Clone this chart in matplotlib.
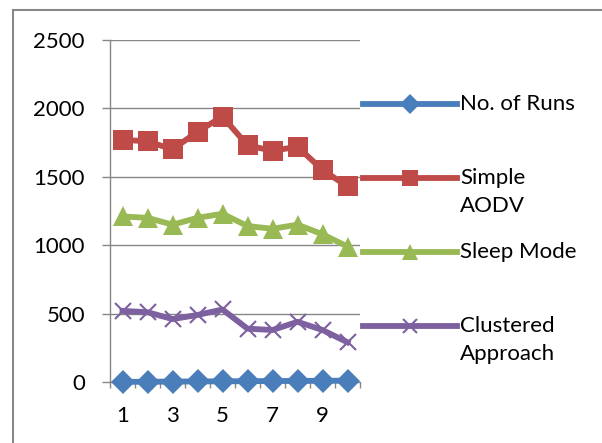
import numpy as np
import matplotlib
matplotlib.use('Agg')
import matplotlib.pyplot as plt
from matplotlib.lines import Line2D
from matplotlib.patches import Rectangle

plt.rcParams['font.family'] = ['Lato', 'DejaVu Sans']

# Data
runs = [1, 2, 3, 4, 5, 6, 7, 8, 9, 10]
no_of_runs = [1, 2, 3, 4, 5, 6, 7, 8, 9, 10]
simple_aodv = [1770, 1760, 1700, 1830, 1940, 1730, 1690, 1720, 1550, 1430]
sleep_mode = [1210, 1200, 1150, 1200, 1230, 1140, 1120, 1150, 1080, 990]
clustered = [520, 510, 460, 490, 530, 390, 380, 440, 380, 290]

series = [
    ('No. of Runs', no_of_runs, '#4A7EBB', 'D', 12),
    ('Simple\nAODV', simple_aodv, '#BE4B48', 's', 14),
    ('Sleep Mode', sleep_mode, '#98B954', '^', 14),
    ('Clustered\nApproach', clustered, '#7D60A0', 'x', 12),
]

W, H = 602, 443
fig = plt.figure(figsize=(W / 100, H / 100), dpi=100)
ax = fig.add_axes([110 / W, 1 - 382 / H, 250 / W, 342 / H])

grid_col = '#868686'
for name, vals, col, mk, ms in series:
    kw = dict(markeredgewidth=1.5) if mk == 'x' else dict(markeredgewidth=0)
    ax.plot(runs, vals, color=col, lw=4.2, marker=mk, markersize=ms,
            markerfacecolor=col, markeredgecolor=col, clip_on=False, zorder=3, **kw)

ax.set_xlim(0.5, 10.5)
ax.set_ylim(0, 2500)
ax.set_yticks([0, 500, 1000, 1500, 2000, 2500])
ax.set_xticks([1, 3, 5, 7, 9])
ax.set_xticks(np.arange(0.5, 11, 1), minor=True)
ax.tick_params(axis='x', which='major', length=0, pad=17, labelsize=16)
ax.tick_params(axis='x', which='minor', length=4, width=1, color=grid_col, direction='out')
ax.tick_params(axis='y', length=6, width=1, color=grid_col, pad=12, labelsize=16)
ax.yaxis.grid(True, color=grid_col, lw=1)
ax.set_axisbelow(True)
for s in ['top', 'right']:
    ax.spines[s].set_visible(False)
for s in ['left', 'bottom']:
    ax.spines[s].set_color(grid_col)
    ax.spines[s].set_linewidth(1)

# legend drawn by hand, handles aligned with first text line
y0 = 104
for i, (name, vals, col, mk, ms) in enumerate(series):
    y = 1 - (y0 + 74 * i) / H
    fig.add_artist(Line2D([363 / W, 457 / W], [y, y], color=col, lw=4.2))
    mkw = dict(markeredgewidth=1.5) if mk == 'x' else dict(markeredgewidth=0)
    fig.add_artist(Line2D([410 / W], [y], color=col, marker=mk, markersize=ms * 0.85,
                          markerfacecolor=col, markeredgecolor=col, **mkw))
    fig.text(460 / W, y + 10 / H, name, fontsize=16, va='top', ha='left',
             linespacing=1.5, color='black')

# outer chart frame (cropped on right and bottom)
fig.add_artist(Rectangle((13 / W, -0.1), 1.2, 1.1 - 10 / H, transform=fig.transFigure,
                         fill=False, edgecolor='#888888', lw=1.5))

fig.savefig('out.png', dpi=100)
